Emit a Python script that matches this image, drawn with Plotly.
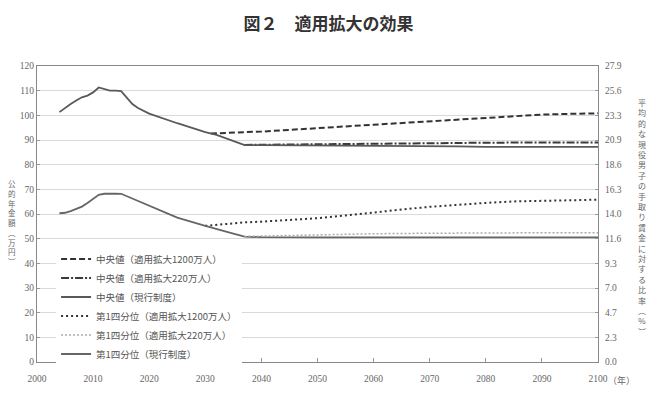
import plotly.graph_objects as go

# ---- data ----
years_cur = [2004, 2005, 2006, 2007, 2008, 2009, 2010, 2011, 2012, 2013, 2014, 2015, 2016, 2017,
             2018, 2019, 2020, 2025, 2030, 2032, 2035, 2037, 2040, 2050, 2060, 2070, 2075, 2080, 2090, 2100]
median_current = [101.3, 103.0, 104.6, 106.0, 107.3, 108.0, 109.3, 111.3, 110.6, 110.0, 110.0, 109.8,
                  107.2, 104.6, 103.0, 101.8, 100.7, 96.8, 93.2, 92.1, 89.5, 87.9, 87.9, 87.8, 87.8,
                  87.7, 87.4, 87.2, 87.2, 87.2]
q1_current = [60.3, 60.5, 61.2, 62.0, 63.0, 64.5, 66.3, 67.8, 68.2, 68.4, 68.3, 68.2,
              67.2, 66.2, 65.3, 64.2, 63.2, 58.5, 55.2, 53.8, 52.0, 50.8, 50.6, 50.5, 50.5,
              50.5, 50.5, 50.5, 50.5, 50.5]

years_220 = [2037, 2045, 2050, 2060, 2070, 2075, 2080, 2090, 2100]
median_220 = [88.0, 88.2, 88.3, 88.5, 88.7, 88.8, 88.9, 89.0, 89.0]
q1_220 = [50.9, 51.3, 51.6, 52.0, 52.2, 52.3, 52.3, 52.4, 52.4]

years_1200 = [2031, 2033, 2037, 2040, 2045, 2050, 2055, 2060, 2065, 2070, 2075, 2080, 2085, 2090, 2095, 2100]
median_1200 = [92.6, 92.9, 93.2, 93.4, 94.0, 94.7, 95.5, 96.2, 96.9, 97.6, 98.4, 99.1, 99.8, 100.3, 100.6, 100.8]
years_1200q = [2030, 2033, 2037, 2040, 2045, 2050, 2055, 2060, 2065, 2070, 2075, 2080, 2085, 2090, 2095, 2100]
q1_1200 = [55.2, 55.9, 56.6, 56.9, 57.5, 58.3, 59.4, 60.7, 61.8, 62.9, 63.8, 64.5, 65.1, 65.4, 65.7, 65.8]

x_ticks = [2000, 2010, 2020, 2030, 2040, 2050, 2060, 2070, 2080, 2090, 2100]
left_ticks = [0, 10, 20, 30, 40, 50, 60, 70, 80, 90, 100, 110, 120]
right_labels = ["0.0", "2.3", "4.7", "7.0", "9.3", "11.6", "14.0", "16.3", "18.6", "20.9", "23.3", "25.6", "27.9"]

names = ["中央値（適用拡大1200万人）", "中央値（適用拡大220万人）", "中央値（現行制度）",
         "第1四分位（適用拡大1200万人）", "第1四分位（適用拡大220万人）", "第1四分位（現行制度）"]

title_text = "図２　適用拡大の効果"
left_title = "公的年金額︵万円︶"
right_title = "平均的な現役男子の手取り賃金に対する比率︵%︶"

# ---- figure ----
fig = go.Figure()
fig.add_trace(go.Scatter(x=years_1200, y=median_1200, mode="lines", name=names[0],
                         line=dict(color="#333333", width=2, dash="6px,3px")))
fig.add_trace(go.Scatter(x=years_220, y=median_220, mode="lines", name=names[1],
                         line=dict(color="#3a3a3a", width=2, dash="8px,2px,2px,2px")))
fig.add_trace(go.Scatter(x=years_cur, y=median_current, mode="lines", name=names[2],
                         line=dict(color="#595959", width=1.8)))
fig.add_trace(go.Scatter(x=years_1200q, y=q1_1200, mode="lines", name=names[3],
                         line=dict(color="#333333", width=2, dash="2px,3px")))
fig.add_trace(go.Scatter(x=years_cur, y=q1_current, mode="lines", name=names[5],
                         line=dict(color="#666666", width=1.8), showlegend=False))
fig.add_trace(go.Scatter(x=years_220, y=q1_220, mode="lines", name=names[4],
                         line=dict(color="#aaaaaa", width=1.5, dash="2px,2px")))
fig.add_trace(go.Scatter(x=[None], y=[None], mode="lines", name=names[5],
                         line=dict(color="#666666", width=1.8)))

# right axis carrier (invisible)
fig.add_trace(go.Scatter(x=[2000], y=[0], yaxis="y2", mode="markers",
                         marker=dict(opacity=0), showlegend=False, hoverinfo="skip"))

tick_font = dict(family="Liberation Serif", size=9.5, color="#666666")

fig.update_layout(
    width=657, height=408,
    margin=dict(l=37, r=59, t=66, b=46),
    paper_bgcolor="white", plot_bgcolor="white",
    title=dict(text=title_text, x=0.5, xanchor="center", y=0.942, yanchor="middle",
               font=dict(family="Noto Sans CJK JP", size=17, color="#333333", weight="bold")),
    xaxis=dict(range=[2000, 2100], tickvals=x_ticks, ticktext=[str(v) for v in x_ticks],
               showgrid=False, showline=True, linecolor="#888888", linewidth=1, mirror=True,
               ticks="inside", ticklen=4, tickcolor="#999999", tickfont=tick_font, zeroline=False,
               ticklabelstandoff=8),
    yaxis=dict(range=[0, 120], tickvals=left_ticks, showgrid=True, gridcolor="#d9d9d9", gridwidth=1,
               showline=True, linecolor="#888888", linewidth=1, ticks="inside", ticklen=3,
               tickcolor="#999999", tickfont=tick_font, zeroline=False),
    yaxis2=dict(range=[0, 120], overlaying="y", side="right", tickvals=left_ticks, ticktext=right_labels,
                showgrid=False, showline=True, linecolor="#888888", linewidth=1, ticks="inside",
                ticklen=3, tickcolor="#999999", tickfont=tick_font, zeroline=False,
                ticklabelstandoff=4),
    legend=dict(x=0.034, y=0.397, xanchor="left", yanchor="top", bgcolor="white",
                font=dict(family="Noto Sans CJK JP", size=9.5, color="#555555"),
                tracegroupgap=0, itemwidth=30),
    showlegend=True,
)

fig.add_annotation(text="<br>".join(list(left_title)), xref="paper", yref="paper",
                   x=-0.045, y=0.47, xanchor="center", yanchor="middle", showarrow=False,
                   font=dict(family="Noto Sans CJK JP", size=7.5, color="#666666"))
fig.add_annotation(text="<br>".join(list(right_title)), xref="paper", yref="paper",
                   x=1.078, y=0.49, xanchor="center", yanchor="middle", showarrow=False,
                   font=dict(family="Noto Sans CJK JP", size=8, color="#666666"))
fig.add_annotation(text="（年）", xref="paper", yref="paper", x=1.014, y=-0.062,
                   xanchor="left", yanchor="middle", showarrow=False,
                   font=dict(family="Noto Sans CJK JP", size=9, color="#666666"))

fig.write_html("out.html")
